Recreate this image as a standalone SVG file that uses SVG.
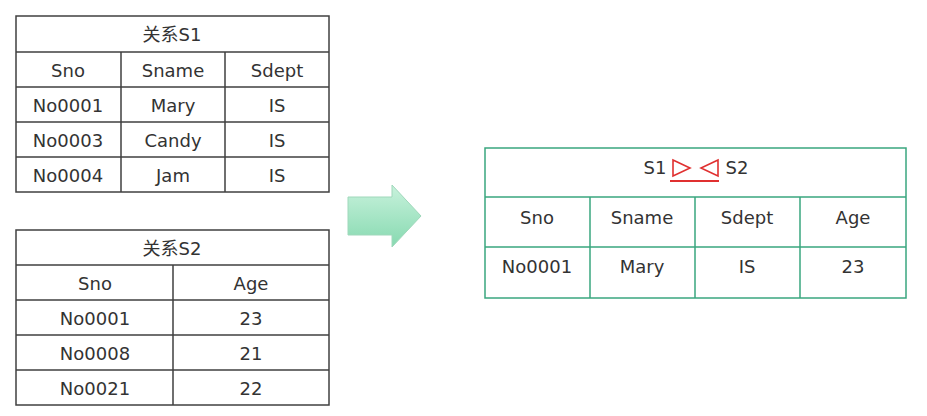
<svg xmlns="http://www.w3.org/2000/svg" width="927" height="416" viewBox="0 0 927 416">
<style>
.g{fill:none;stroke:#404040;stroke-width:1.5}
.gr{fill:none;stroke:#3aa67f;stroke-width:1.5}
text{font-family:"DejaVu Sans","Noto Sans CJK SC",sans-serif;font-size:18px;fill:#333;text-anchor:middle;dominant-baseline:central}
</style>
<defs><linearGradient id="ag" x1="0" y1="0" x2="0" y2="1"><stop offset="0" stop-color="#c8f2dc"/><stop offset="1" stop-color="#86d9b0"/></linearGradient></defs>
<rect width="927" height="416" fill="#fff"/>
<g id="s1">
<rect class="g" x="16" y="16" width="313" height="176"/>
<path class="g" d="M16 52H329M16 87H329M16 122H329M16 157H329M121 52V192M225 52V192"/>
<text x="172" y="34">关系S1</text>
<text x="68" y="70">Sno</text><text x="173" y="70">Sname</text><text x="277" y="70">Sdept</text>
<text x="68" y="105">No0001</text><text x="173" y="105">Mary</text><text x="277" y="105">IS</text>
<text x="68" y="140">No0003</text><text x="173" y="140">Candy</text><text x="277" y="140">IS</text>
<text x="68" y="175">No0004</text><text x="173" y="175">Jam</text><text x="277" y="175">IS</text>
</g>
<g id="s2">
<rect class="g" x="16" y="230" width="313" height="175"/>
<path class="g" d="M16 265H329M16 300H329M16 335H329M16 370H329M173 265V405"/>
<text x="172" y="248">关系S2</text>
<text x="95" y="283">Sno</text><text x="251" y="283">Age</text>
<text x="95" y="318">No0001</text><text x="251" y="318">23</text>
<text x="95" y="353">No0008</text><text x="251" y="353">21</text>
<text x="95" y="388">No0021</text><text x="251" y="388">22</text>
</g>
<g id="connectors">
<path d="M348 197H392V185L421 216L392 247V235H348Z" fill="url(#ag)" stroke="#9fd8bb" stroke-width="1"/>
</g>
<g id="result">
<rect class="gr" x="485" y="148" width="421" height="150"/>
<path class="gr" d="M485 197H906M485 247H906M590 197V298M695 197V298M800 197V298"/>
<text x="655" y="167">S1</text><text x="737" y="167">S2</text>
<path d="M673 160L690 168L673 176Z M718 160L701 168L718 176Z" fill="none" stroke="#e03030" stroke-width="1.6"/>
<path d="M670 181H719" stroke="#e03030" stroke-width="2"/>
<text x="537" y="217">Sno</text><text x="642" y="217">Sname</text><text x="747" y="217">Sdept</text><text x="853" y="217">Age</text>
<text x="537" y="266">No0001</text><text x="642" y="266">Mary</text><text x="747" y="266">IS</text><text x="853" y="266">23</text>
</g>
</svg>
